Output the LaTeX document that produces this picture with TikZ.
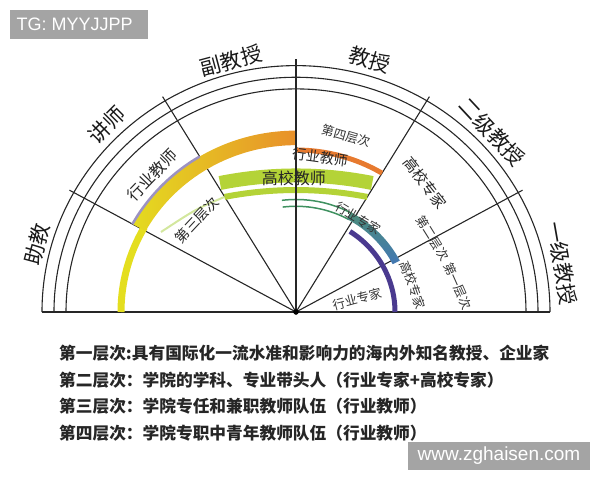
\documentclass[tikz,border=0pt]{standalone}
\usepackage{fontspec}
\setmainfont{Noto Sans CJK SC}
\newfontfamily\wmfont{Liberation Sans}

\definecolor{lvyellow}{HTML}{E4DE1F}
\definecolor{lvorange}{HTML}{E8902A}
\definecolor{lvline}{HTML}{E77A2F}
\definecolor{lvlilac}{HTML}{9C92C2}
\definecolor{lvlime}{HTML}{B4D337}
\definecolor{lvpale}{HTML}{D3E79E}
\definecolor{lvgreen}{HTML}{3F9160}
\definecolor{lvteal}{HTML}{4C8E78}
\definecolor{lvblue}{HTML}{4276B8}
\definecolor{lvpurple}{HTML}{4A3A8F}
\definecolor{wmgray}{HTML}{A4A4A4}

\begin{document}
\begin{tikzpicture}[x=1pt,y=1pt,
  rim/.style={line width=1.1pt, draw=black!85},
  ranklbl/.style={font=\fontsize{21}{21}\selectfont, text=black!90},
  midlbl/.style={font=\fontsize{15}{15}\selectfont, text=black!85},
  smalllbl/.style={font=\fontsize{12.5}{12.5}\selectfont, text=black!80},
  legendline/.style={anchor=west, inner sep=0pt, font=\fontsize{16.7}{16.7}\selectfont\bfseries, text=black!85}]
  \useasboundingbox (-296,-168) rectangle (304,312);

  % watermark top left
  \fill[wmgray] (-286,273) rectangle (-148,302);
  \node[anchor=west, text=white, font=\wmfont\fontsize{18}{18}\selectfont] (tg) at (-283,287.5) {TG: MYYJJPP};

  \begin{scope}[yscale=0.97]
  % the three rims and the base
    \draw[rim] (254,0) arc[start angle=0, end angle=180, radius=254];
    \draw[rim] (242,0) arc[start angle=0, end angle=180, radius=242];
    \draw[rim] (230,0) arc[start angle=0, end angle=180, radius=230];
    \draw[rim] (-254,0) -- (254,0);

  % dividers
    \draw[rim] (0,0) -- (151:259);
    \draw[rim] (0,0) -- (121:259);
    \draw[rim] (0,0) -- (59:259);
    \draw[rim] (0,0) -- (29:259);

  % levels three and four
    \draw[lvyellow, line width=7] (180:175) arc[start angle=180, end angle=150, radius=175];
    \begin{scope}
      \clip (151:172) arc[start angle=151, end angle=90, radius=172]
        -- (90:187) arc[start angle=90, end angle=151, radius=187] -- cycle;
      \shade[left color=lvyellow, right color=lvorange] (-170,80) rectangle (0,190);
    \end{scope}
    \draw[lvlilac, line width=2.5] (151:187) arc[start angle=151, end angle=121, radius=187];
    \draw[lvline, line width=5] (90:167) arc[start angle=90, end angle=59, radius=167];

  % level two
    \draw[lvgreen, line width=1.5] (97:109) arc[start angle=97, end angle=61, radius=109];
    \draw[lvgreen, line width=1.5] (97:116) arc[start angle=97, end angle=61, radius=116];
    \begin{scope}
      \clip (62:108.5) arc[start angle=62, end angle=27, radius=108.5]
        -- (27:116.5) arc[start angle=27, end angle=62, radius=116.5] -- cycle;
      \shade[top color=lvteal, bottom color=lvblue] (40,45) rectangle (120,105);
    \end{scope}
    \draw[lvpurple, line width=5] (57:99) arc[start angle=57, end angle=0, radius=99];
  \end{scope}

  % green bands
  \draw[lvlime, line width=14] (-76,129) arc[start angle=101.3, end angle=78.7, radius=388.5];
  \draw[lvlime, line width=6] (-71.4,115.1) arc[start angle=101, end angle=79, radius=374];
  \draw[lvpale, line width=2] (-71.4,115.1) .. controls (-100,103) .. (-135,80);
  \draw[rim] (0,0) -- (0,253);
  \filldraw[black] (0,0) circle (2.5);

  % ranks round the rim
  \node[ranklbl, rotate=75] (zhujiao) at (-259,68) {助教};
  \node[ranklbl, rotate=45] (jiangshi) at (-189,187) {讲师};
  \node[ranklbl, rotate=15] (fujiaoshou) at (-65,251) {副教授};
  \node[ranklbl, rotate=-16] (jiaoshou) at (74,252) {教授};
  \node[ranklbl, rotate=-47] (erjijiaoshou) at (196,180) {二级教授};
  \node[ranklbl, rotate=-80] (yijijiaoshou) at (266,49) {一级教授};

  % labels inside
  \node[midlbl, rotate=46, font=\fontsize{16}{16}\selectfont] (hyjs) at (-144,137) {行业教师};
  \node[midlbl, rotate=47, font=\fontsize{14}{14}\selectfont] (disan) at (-99,92) {第三层次};
  \node[smalllbl, rotate=-16] (disi) at (50,176) {第四层次};
  \node[midlbl, rotate=-8, font=\fontsize{14}{14}\selectfont] (hyjsline) at (24,155) {行业教师};
  \node[midlbl, font=\fontsize{16}{16}\selectfont] (gxjs) at (-2,134) {高校教师};
  \node[smalllbl, rotate=-31] (hyzj) at (62,94) {行业专家};
  \node[midlbl, rotate=-52] (gxzj) at (129,129) {高校专家};
  \node[smalllbl, rotate=-58] (dier) at (137,74) {第二层次};
  \node[smalllbl, rotate=-66] (diyi) at (162,26) {第一层次};
  \node[smalllbl, rotate=-70] (gxzjline) at (117,27) {高校专家};
  \node[smalllbl, rotate=15] (hyzjline) at (61,13) {行业专家};

  % legend
  \node[legendline] (leg1) at (-237,-41) {第一层次:具有国际化一流水准和影响力的海内外知名教授、企业家};
  \node[legendline] (leg2) at (-237,-68) {第二层次：学院的学科、专业带头人（行业专家+高校专家）};
  \node[legendline] (leg3) at (-237,-94.5) {第三层次：学院专任和兼职教师队伍（行业教师）};
  \node[legendline] (leg4) at (-237,-121) {第四层次：学院专职中青年教师队伍（行业教师）};

  % watermark bottom right
  \fill[wmgray] (112,-130) rectangle (294,-158);
  \node[text=white, font=\wmfont\fontsize{19}{19}\selectfont] (site) at (203,-144) {www.zghaisen.com};
\end{tikzpicture}
\end{document}
